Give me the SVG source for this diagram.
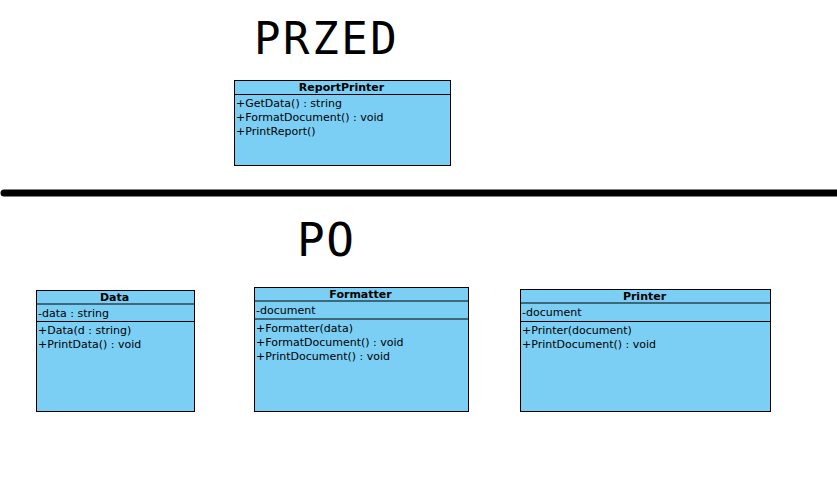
<svg xmlns="http://www.w3.org/2000/svg" width="837" height="504" viewBox="0 0 837 504">
<style>
.box{fill:#7bcff4;stroke:#000;stroke-width:1}
.sep{stroke:#000;stroke-width:1}
.t{font-family:"DejaVu Sans",sans-serif;font-size:11px;fill:#000}
.h{font-family:"DejaVu Sans",sans-serif;font-size:11px;font-weight:bold;fill:#000;text-anchor:middle}
.big{font-family:"DejaVu Sans Mono",monospace;fill:#000}
</style>
<rect width="837" height="504" fill="#fff"/>
<text class="big" x="254" y="54" font-size="44" letter-spacing="2.6">PRZED</text>
<text class="big" x="297" y="256" font-size="46" letter-spacing="1.5">PO</text>
<g id="connectors">
<line x1="4" y1="193" x2="845" y2="193" stroke="#000" stroke-width="7" stroke-linecap="round"/>
</g>
<g id="ReportPrinter">
<rect class="box" x="234.5" y="80.5" width="216" height="85"/>
<line class="sep" x1="234.5" y1="94.5" x2="450.5" y2="94.5"/>
<text class="h" x="341.5" y="91">ReportPrinter</text>
<text class="t" x="236" y="107">+GetData() : string</text>
<text class="t" x="236" y="121">+FormatDocument() : void</text>
<text class="t" x="236" y="135">+PrintReport()</text>
</g>
<g id="Data">
<rect class="box" x="36.5" y="290.5" width="158" height="121"/>
<line class="sep" x1="36.5" y1="304" x2="194.5" y2="304"/>
<line class="sep" x1="36.5" y1="321.5" x2="194.5" y2="321.5"/>
<text class="h" x="114.5" y="301">Data</text>
<text class="t" x="38" y="317">-data : string</text>
<text class="t" x="38" y="334">+Data(d : string)</text>
<text class="t" x="38" y="348">+PrintData() : void</text>
</g>
<g id="Formatter">
<rect class="box" x="254.5" y="287.5" width="214" height="124"/>
<line class="sep" x1="254.5" y1="301" x2="468.5" y2="301"/>
<line class="sep" x1="254.5" y1="319" x2="468.5" y2="319"/>
<text class="h" x="360.5" y="298">Formatter</text>
<text class="t" x="256" y="314">-document</text>
<text class="t" x="256" y="331.5">+Formatter(data)</text>
<text class="t" x="256" y="345.5">+FormatDocument() : void</text>
<text class="t" x="256" y="359.5">+PrintDocument() : void</text>
</g>
<g id="Printer">
<rect class="box" x="520.5" y="289.5" width="250" height="122"/>
<line class="sep" x1="520.5" y1="303" x2="770.5" y2="303"/>
<line class="sep" x1="520.5" y1="321.5" x2="770.5" y2="321.5"/>
<text class="h" x="644.5" y="300">Printer</text>
<text class="t" x="522" y="316">-document</text>
<text class="t" x="522" y="333.5">+Printer(document)</text>
<text class="t" x="522" y="347.5">+PrintDocument() : void</text>
</g>
</svg>
